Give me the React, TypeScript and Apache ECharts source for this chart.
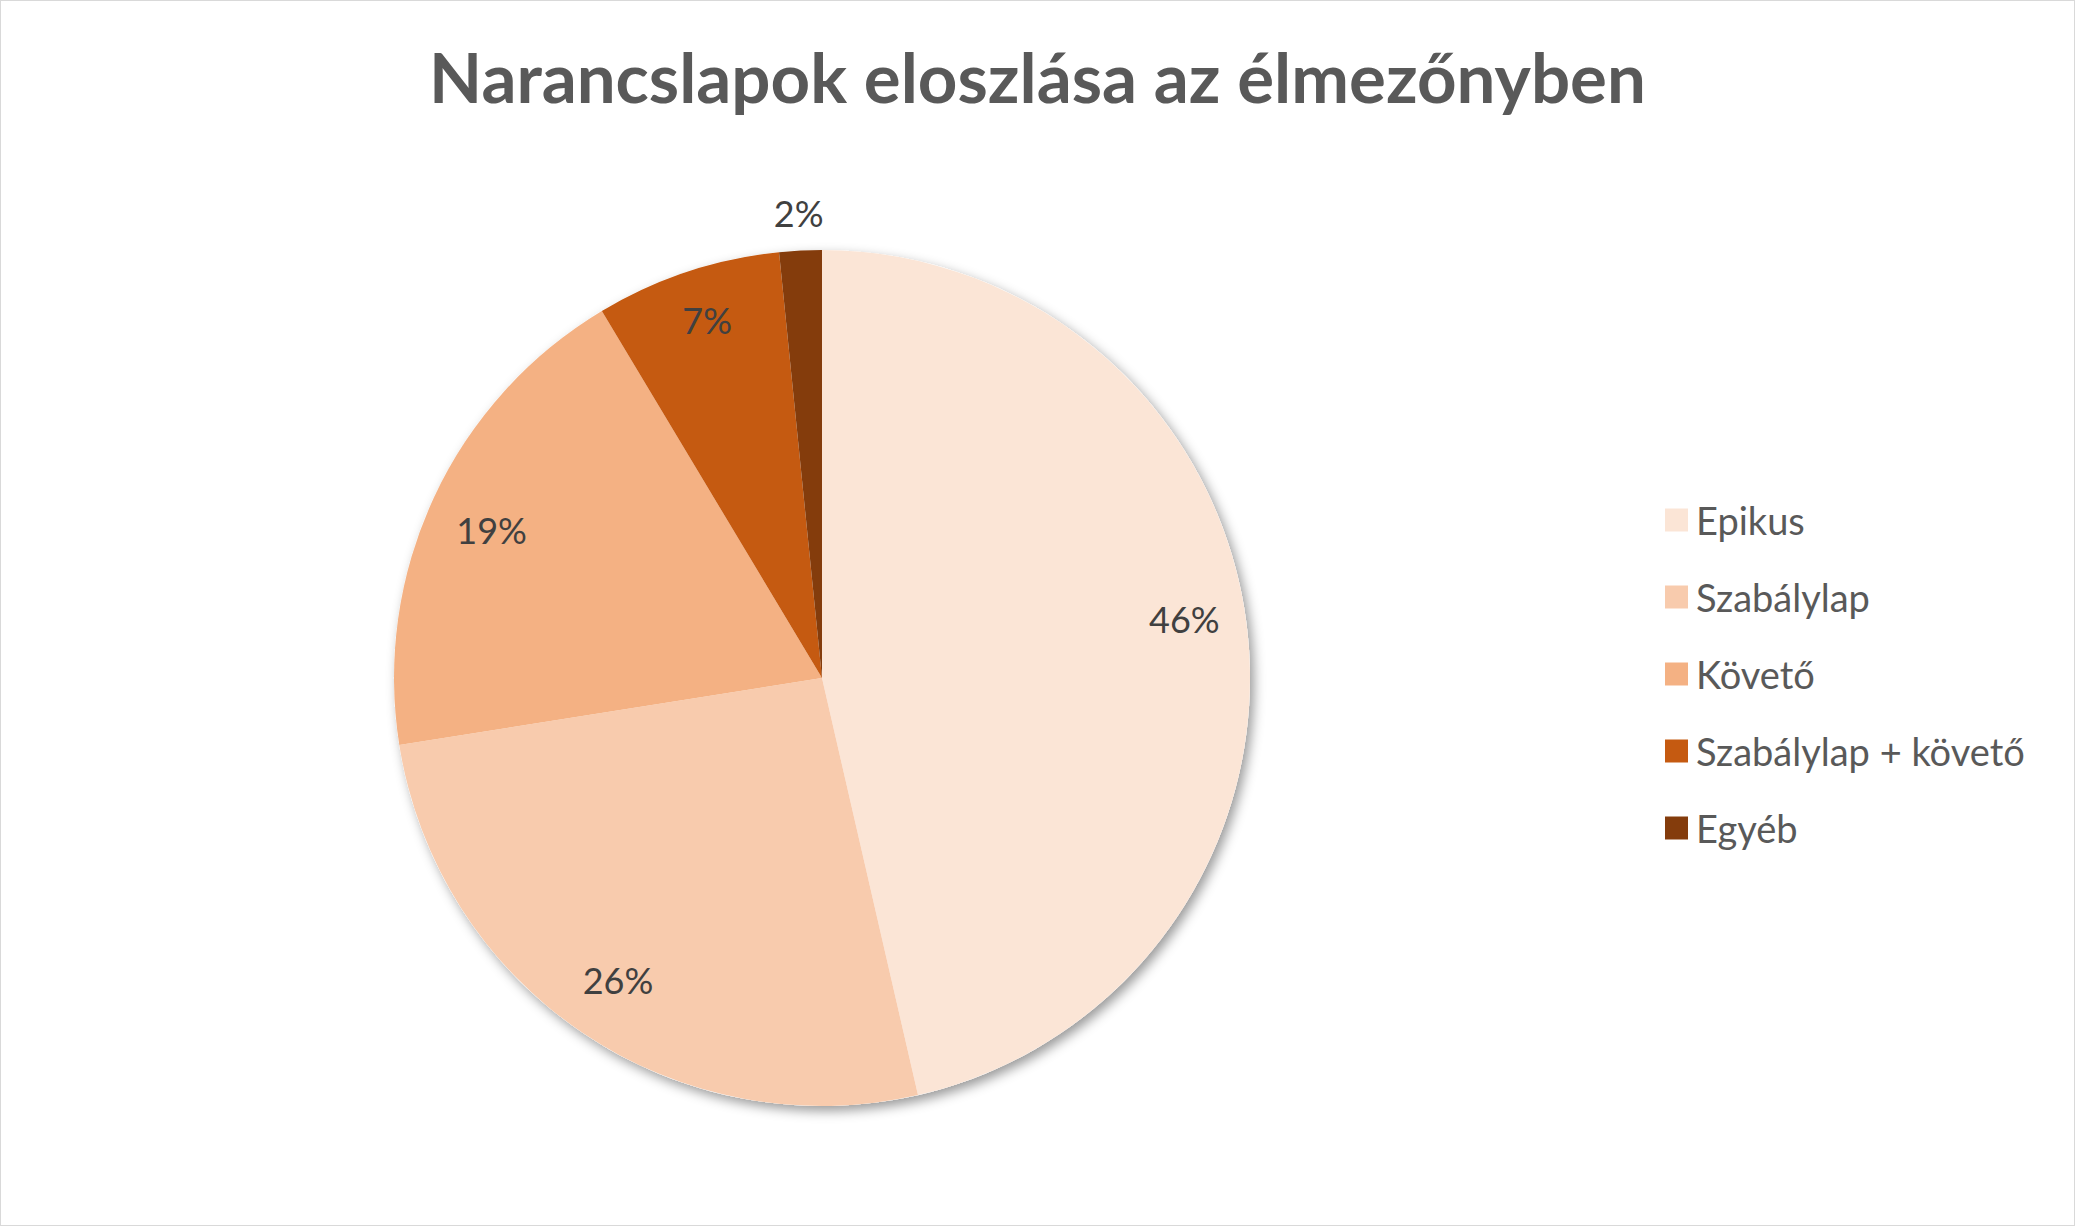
import { useEffect, useRef } from 'react'
import * as echarts from 'echarts'

const categories = ['Epikus', 'Szabálylap', 'Követő', 'Szabálylap + követő', 'Egyéb']
const shares = [46.4, 26.1, 18.9, 7.0, 1.6] // percent of orange cards
const sliceColors = ['#FBE5D6', '#F8CBAD', '#F4B183', '#C55A11', '#843C0C']
const outsideLabel = ['Egyéb'] // labels Excel put outside the pie

const FONT = 'Lato, "Open Sans", sans-serif'
const CENTER = [821, 677]
const R = 428

export default function App() {
  const chartRef = useRef<HTMLDivElement>(null)

  useEffect(() => {
    if (!chartRef.current) return
    const chart = echarts.init(chartRef.current, null, { renderer: 'svg' })

    const pieData = categories.map((name, i) => ({
      name,
      value: shares[i],
      itemStyle: { color: sliceColors[i] }
    }))

    const pctLabel = (p: any) => `${Math.round(p.percent)}%`

    const labelStyle = {
      position: 'inside',
      formatter: pctLabel,
      color: '#404040',
      fontFamily: FONT,
      fontSize: 36
    }

    // Excel's "best fit" nudges a couple of labels upward
    const nudge = [-18, 0, 6, -12, 0]

    const option = {
      animation: false,
      backgroundColor: '#ffffff',
      title: {
        text: 'Narancslapok eloszlása az élmezőnyben',
        left: 'center',
        top: 36,
        textStyle: {
          color: '#595959',
          fontFamily: FONT,
          fontWeight: 'bold',
          fontSize: 69
        }
      },
      legend: {
        orient: 'vertical',
        left: 1659,
        top: 492,
        icon: 'rect',
        itemWidth: 23,
        itemHeight: 23,
        itemGap: 33,
        data: categories,
        selectedMode: false,
        textStyle: {
          color: '#595959',
          fontFamily: FONT,
          fontSize: 38,
          lineHeight: 44,
          padding: [0, 0, 0, 3]
        }
      },
      series: [
        // full disc underneath, only for the soft drop shadow
        {
          type: 'pie',
          silent: true,
          center: CENTER,
          radius: R,
          label: { show: false },
          labelLine: { show: false },
          data: [{
            name: 'shadow',
            value: 1,
            itemStyle: {
              color: '#ffffff',
              shadowBlur: 12,
              shadowOffsetX: 4,
              shadowOffsetY: 5,
              shadowColor: 'rgba(0,0,0,0.4)'
            }
          }]
        },
        {
          type: 'pie',
          center: CENTER,
          radius: R,
          startAngle: 90,
          clockwise: true,
          label: { show: false },
          labelLine: { show: false },
          emphasis: { disabled: true },
          itemStyle: { borderWidth: 0 },
          data: pieData
        },
        // transparent ring that carries the inner percentage labels
        {
          type: 'pie',
          silent: true,
          center: CENTER,
          radius: [R * 0.69, R],
          startAngle: 90,
          labelLine: { show: false },
          itemStyle: { color: 'transparent' },
          labelLayout: (p: any) => ({ dy: nudge[p.dataIndex] || 0 }),
          data: categories.map((name, i) => ({
            name,
            value: shares[i],
            label: { show: !outsideLabel.includes(name), ...labelStyle }
          }))
        },
        // transparent ring outside the pie for tiny slices
        {
          type: 'pie',
          silent: true,
          center: CENTER,
          radius: [R, R * 1.16],
          startAngle: 90,
          labelLine: { show: false },
          itemStyle: { color: 'transparent' },
          data: categories.map((name, i) => ({
            name,
            value: shares[i],
            label: { show: outsideLabel.includes(name), ...labelStyle }
          }))
        }
      ]
    }

    chart.setOption(option as any)

    const handleResize = () => chart.resize()
    window.addEventListener('resize', handleResize)
    return () => {
      window.removeEventListener('resize', handleResize)
      chart.dispose()
    }
  }, [])

  return (
    <div
      style={{
        position: 'fixed',
        left: 0,
        top: 0,
        width: 2075,
        height: 1226,
        boxSizing: 'border-box',
        border: '1px solid #d9d9d9',
        background: '#ffffff'
      }}
    >
      <div ref={chartRef} style={{ width: '100%', height: '100%' }} />
    </div>
  )
}
